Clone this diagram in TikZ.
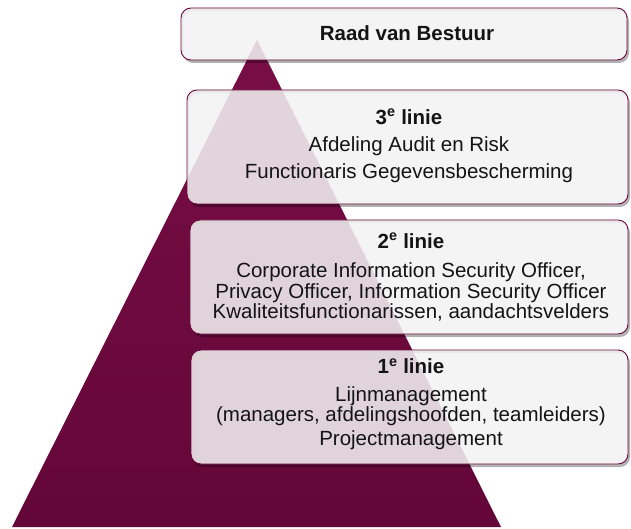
\documentclass[tikz,border=0pt]{standalone}
\usepackage{fontspec}
\setmainfont{Liberation Sans}
\definecolor{maroon}{RGB}{108,8,60}
\definecolor{maroontop}{RGB}{120,14,70}
\definecolor{maroonbot}{RGB}{100,6,56}
\definecolor{boxfill}{RGB}{242,242,242}
\definecolor{txt}{RGB}{20,20,20}
\tikzset{
  lvlbox/.style={draw=maroon, line width=0.9pt, rounded corners=10pt, fill=boxfill, fill opacity=0.87},
  lvlshadow/.style={fill=black, opacity=0.3, even odd rule, rounded corners=10pt},
  lvltext/.style={align=center, text=txt, font=\fontsize{20.5}{20.5}\selectfont, inner sep=0pt}
}
\newcommand{\lvlpanel}[4]{%
  \fill[lvlshadow] ({#1+2},{#2+3}) rectangle ({#3+2},{#4+3}) (#1,#2) rectangle (#3,#4);
  \path[lvlbox] (#1,#2) rectangle (#3,#4);
}
\begin{document}
\begin{tikzpicture}[x=1pt,y=-1pt]
\useasboundingbox (0,0) rectangle (631,529);
% pyramid
\shade[top color=maroontop, bottom color=maroonbot] (257,40) -- (501,527) -- (12,527) -- cycle;
% boxes
\lvlpanel{181}{8}{627}{60}
\node[lvltext, font=\fontsize{20.5}{20.5}\selectfont\bfseries] (rvb) at (407,33) {Raad van Bestuur};

\lvlpanel{187}{90}{628}{204}
\node[lvltext] (l3) at (409,146) {\textbf{3\textsuperscript{e} linie}\\[7pt]Afdeling Audit en Risk\\[6pt]Functionaris Gegevensbescherming};

\lvlpanel{190}{220}{628}{334}
\node[lvltext] (l2) at (411,277) {\textbf{2\textsuperscript{e} linie}\\[9pt]Corporate Information Security Officer,\\Privacy Officer, Information Security Officer\\Kwaliteitsfunctionarissen, aandachtsvelders};

\lvlpanel{191}{350}{628}{464}
\node[lvltext] (l1) at (411,404) {\textbf{1\textsuperscript{e} linie}\\[7pt]Lijnmanagement\\(managers, afdelingshoofden, teamleiders)\\[3pt]Projectmanagement};
\end{tikzpicture}
\end{document}
